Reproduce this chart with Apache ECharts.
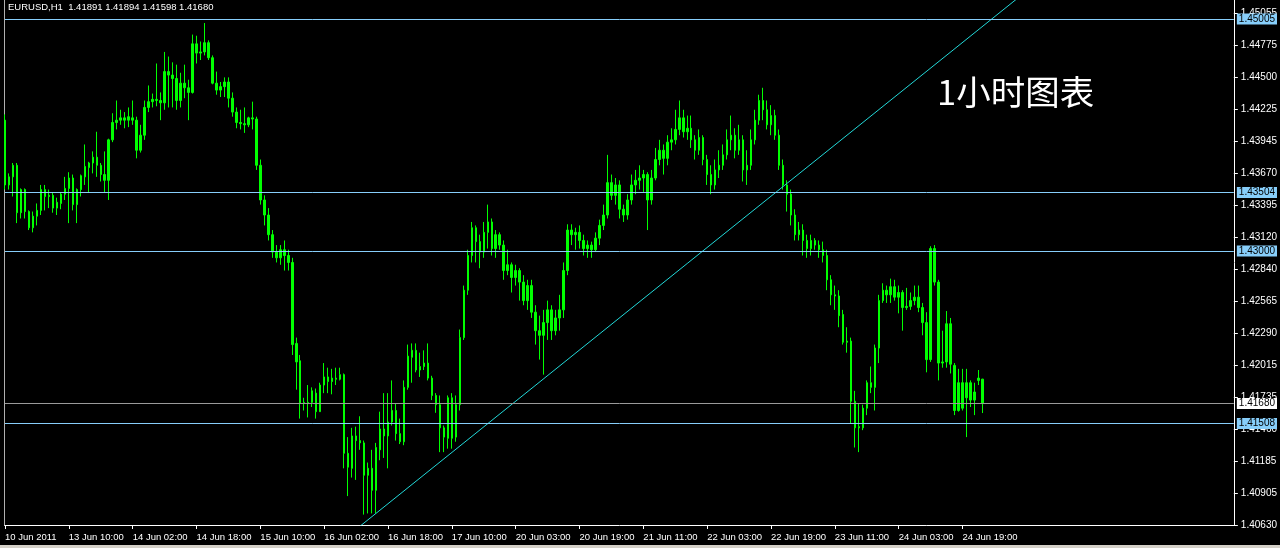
<!DOCTYPE html>
<html>
<head>
<meta charset="utf-8">
<script src="https://cdn.jsdelivr.net/npm/echarts@6/dist/echarts.min.js"></script>
<style>
html, body { margin: 0; padding: 0; background: #000; }
#chart { width: 1280px; height: 548px; }
</style>
</head>
<body>
<div id="chart"></div>
<script>
// time labels, one every 16 hourly bars
const tickLabels = ['10 Jun 2011', '13 Jun 10:00', '14 Jun 02:00', '14 Jun 18:00', '15 Jun 10:00', '16 Jun 02:00',
    '16 Jun 18:00', '17 Jun 10:00', '20 Jun 03:00', '20 Jun 19:00', '21 Jun 11:00', '22 Jun 03:00',
    '22 Jun 19:00', '23 Jun 11:00', '24 Jun 03:00', '24 Jun 19:00']

// price scale labels on the right
const priceTicks = [1.45055, 1.44775, 1.44500, 1.44225, 1.43945, 1.43670, 1.43395, 1.43120, 1.42840,
    1.42565, 1.42290, 1.42015, 1.41735, 1.41460, 1.41185, 1.40905, 1.40630]

// horizontal levels and the bid line
const levels = [1.45005, 1.43504, 1.43000, 1.41508]
const bidPrice = 1.41680

// trend line, [bar index, price]
const trendLine = [[80, 1.40371], [260, 1.45356]]

// EURUSD H1: [open, close, low, high]
const candles = [
    [1.4413, 1.4357, 1.4353, 1.4418], [1.4357, 1.4364, 1.4353, 1.4367], [1.4364, 1.4374, 1.4347, 1.4376], [1.4374, 1.4333, 1.4324, 1.4376],
    [1.4333, 1.4353, 1.4328, 1.4354], [1.4353, 1.4334, 1.4328, 1.4354], [1.4334, 1.4320, 1.4318, 1.4335], [1.4320, 1.4330, 1.4316, 1.4334],
    [1.4330, 1.4335, 1.4322, 1.4341], [1.4335, 1.4353, 1.4331, 1.4357], [1.4353, 1.4347, 1.4335, 1.4357], [1.4347, 1.4348, 1.4337, 1.4353],
    [1.4348, 1.4337, 1.4333, 1.4350], [1.4337, 1.4342, 1.4331, 1.4346], [1.4341, 1.4349, 1.4336, 1.4350], [1.4349, 1.4354, 1.4344, 1.4364],
    // 13 Jun 10:00
    [1.4354, 1.4363, 1.4324, 1.4368], [1.4363, 1.4340, 1.4335, 1.4366], [1.4340, 1.4353, 1.4324, 1.4354], [1.4353, 1.4365, 1.4347, 1.4366],
    [1.4364, 1.4373, 1.4357, 1.4392], [1.4372, 1.4376, 1.4350, 1.4377], [1.4376, 1.4381, 1.4367, 1.4386], [1.4381, 1.4374, 1.4364, 1.4403],
    [1.4374, 1.4366, 1.4360, 1.4376], [1.4366, 1.4361, 1.4350, 1.4386], [1.4361, 1.4396, 1.4344, 1.4397], [1.4396, 1.4411, 1.4394, 1.4419],
    [1.4411, 1.4413, 1.4405, 1.4430], [1.4413, 1.4415, 1.4409, 1.4422], [1.4415, 1.4413, 1.4406, 1.4420], [1.4413, 1.4416, 1.4407, 1.4424],
    // 14 Jun 02:00
    [1.4415, 1.4413, 1.4409, 1.4430], [1.4413, 1.4387, 1.4380, 1.4416], [1.4387, 1.4400, 1.4385, 1.4409], [1.4400, 1.4424, 1.4396, 1.4430],
    [1.4424, 1.4429, 1.4420, 1.4443], [1.4429, 1.4431, 1.4424, 1.4436], [1.4431, 1.4430, 1.4425, 1.4462], [1.4430, 1.4428, 1.4413, 1.4437],
    [1.4428, 1.4455, 1.4422, 1.4472], [1.4455, 1.4452, 1.4424, 1.4468], [1.4452, 1.4449, 1.4424, 1.4463], [1.4449, 1.4430, 1.4422, 1.4461],
    [1.4430, 1.4445, 1.4424, 1.4454], [1.4445, 1.4441, 1.4432, 1.4461], [1.4441, 1.4437, 1.4413, 1.4448], [1.4437, 1.4479, 1.4436, 1.4487],
    // 14 Jun 18:00
    [1.4479, 1.4471, 1.4462, 1.4486], [1.4471, 1.4472, 1.4465, 1.4481], [1.4472, 1.4480, 1.4469, 1.4497], [1.4480, 1.4467, 1.4465, 1.4482],
    [1.4467, 1.4445, 1.4444, 1.4469], [1.4445, 1.4439, 1.4435, 1.4455], [1.4439, 1.4442, 1.4433, 1.4446], [1.4442, 1.4446, 1.4433, 1.4450],
    [1.4446, 1.4432, 1.4424, 1.4450], [1.4432, 1.4420, 1.4416, 1.4437], [1.4420, 1.4411, 1.4406, 1.4424], [1.4411, 1.4410, 1.4405, 1.4422],
    [1.4410, 1.4409, 1.4402, 1.4424], [1.4409, 1.4415, 1.4407, 1.4416], [1.4415, 1.4414, 1.4405, 1.4429], [1.4414, 1.4374, 1.4370, 1.4416],
    // 15 Jun 10:00
    [1.4374, 1.4344, 1.4340, 1.4379], [1.4344, 1.4331, 1.4322, 1.4348], [1.4331, 1.4314, 1.4309, 1.4337], [1.4314, 1.4299, 1.4294, 1.4318],
    [1.4299, 1.4294, 1.4290, 1.4305], [1.4294, 1.4301, 1.4288, 1.4305], [1.4301, 1.4296, 1.4283, 1.4309], [1.4296, 1.4290, 1.4283, 1.4301],
    [1.4290, 1.4219, 1.4210, 1.4294], [1.4220, 1.4204, 1.4180, 1.4225], [1.4205, 1.4168, 1.4155, 1.4210], [1.4168, 1.4169, 1.4162, 1.4173],
    [1.4168, 1.4169, 1.4156, 1.4184], [1.4169, 1.4179, 1.4165, 1.4182], [1.4177, 1.4161, 1.4155, 1.4181], [1.4161, 1.4184, 1.4161, 1.4186],
    // 16 Jun 02:00
    [1.4184, 1.4191, 1.4177, 1.4203], [1.4191, 1.4187, 1.4177, 1.4199], [1.4187, 1.4190, 1.4176, 1.4198], [1.4190, 1.4189, 1.4184, 1.4199],
    [1.4189, 1.4193, 1.4188, 1.4199], [1.4193, 1.4125, 1.4112, 1.4194], [1.4125, 1.4113, 1.4088, 1.4139], [1.4112, 1.4140, 1.4104, 1.4147],
    [1.4140, 1.4136, 1.4102, 1.4148], [1.4136, 1.4134, 1.4128, 1.4157], [1.4134, 1.4106, 1.4072, 1.4136], [1.4106, 1.4112, 1.4073, 1.4117],
    [1.4112, 1.4093, 1.4073, 1.4128], [1.4093, 1.4130, 1.4073, 1.4134], [1.4128, 1.4146, 1.4119, 1.4161], [1.4146, 1.4140, 1.4121, 1.4177],
    // 16 Jun 18:00
    [1.4140, 1.4152, 1.4112, 1.4177], [1.4152, 1.4162, 1.4149, 1.4188], [1.4162, 1.4142, 1.4136, 1.4168], [1.4142, 1.4135, 1.4133, 1.4155],
    [1.4135, 1.4182, 1.4132, 1.4188], [1.4182, 1.4209, 1.4180, 1.4219], [1.4208, 1.4214, 1.4186, 1.4220], [1.4214, 1.4197, 1.4195, 1.4220],
    [1.4197, 1.4200, 1.4191, 1.4212], [1.4200, 1.4203, 1.4197, 1.4214], [1.4203, 1.4190, 1.4188, 1.4220], [1.4190, 1.4175, 1.4171, 1.4192],
    [1.4175, 1.4167, 1.4160, 1.4177], [1.4167, 1.4147, 1.4126, 1.4175], [1.4147, 1.4139, 1.4126, 1.4149], [1.4138, 1.4173, 1.4129, 1.4175],
    // 17 Jun 10:00
    [1.4173, 1.4138, 1.4129, 1.4177], [1.4139, 1.4167, 1.4135, 1.4175], [1.4167, 1.4225, 1.4162, 1.4232], [1.4225, 1.4266, 1.4223, 1.4270],
    [1.4266, 1.4296, 1.4262, 1.4301], [1.4296, 1.4320, 1.4290, 1.4325], [1.4320, 1.4308, 1.4290, 1.4322], [1.4308, 1.4299, 1.4285, 1.4314],
    [1.4299, 1.4316, 1.4294, 1.4325], [1.4316, 1.4325, 1.4302, 1.4340], [1.4325, 1.4302, 1.4296, 1.4328], [1.4302, 1.4314, 1.4294, 1.4318],
    [1.4314, 1.4305, 1.4301, 1.4316], [1.4305, 1.4283, 1.4275, 1.4309], [1.4283, 1.4288, 1.4279, 1.4301], [1.4288, 1.4277, 1.4264, 1.4290],
    // 20 Jun 03:00
    [1.4277, 1.4283, 1.4270, 1.4288], [1.4283, 1.4273, 1.4257, 1.4285], [1.4273, 1.4257, 1.4253, 1.4279], [1.4257, 1.4270, 1.4249, 1.4275],
    [1.4270, 1.4247, 1.4242, 1.4275], [1.4247, 1.4231, 1.4219, 1.4253], [1.4231, 1.4227, 1.4206, 1.4244], [1.4227, 1.4238, 1.4193, 1.4249],
    [1.4238, 1.4249, 1.4223, 1.4257], [1.4249, 1.4231, 1.4223, 1.4253], [1.4231, 1.4242, 1.4227, 1.4249], [1.4242, 1.4249, 1.4231, 1.4262],
    [1.4249, 1.4283, 1.4242, 1.4290], [1.4283, 1.4318, 1.4279, 1.4323], [1.4318, 1.4314, 1.4305, 1.4323], [1.4314, 1.4316, 1.4301, 1.4320],
    // 20 Jun 19:00
    [1.4316, 1.4309, 1.4302, 1.4322], [1.4309, 1.4302, 1.4296, 1.4314], [1.4302, 1.4305, 1.4294, 1.4309], [1.4305, 1.4301, 1.4294, 1.4308],
    [1.4301, 1.4311, 1.4299, 1.4316], [1.4311, 1.4322, 1.4305, 1.4327], [1.4322, 1.4331, 1.4318, 1.4340], [1.4331, 1.4359, 1.4328, 1.4383],
    [1.4359, 1.4348, 1.4344, 1.4366], [1.4348, 1.4357, 1.4340, 1.4363], [1.4357, 1.4336, 1.4328, 1.4361], [1.4336, 1.4331, 1.4325, 1.4340],
    [1.4331, 1.4344, 1.4327, 1.4349], [1.4344, 1.4357, 1.4340, 1.4366], [1.4357, 1.4361, 1.4349, 1.4370], [1.4361, 1.4363, 1.4353, 1.4374],
    // 21 Jun 11:00
    [1.4363, 1.4366, 1.4351, 1.4370], [1.4366, 1.4344, 1.4318, 1.4368], [1.4344, 1.4363, 1.4340, 1.4370], [1.4363, 1.4379, 1.4361, 1.4389],
    [1.4379, 1.4387, 1.4374, 1.4396], [1.4387, 1.4380, 1.4366, 1.4392], [1.4380, 1.4394, 1.4374, 1.4400], [1.4394, 1.4396, 1.4387, 1.4406],
    [1.4396, 1.4405, 1.4392, 1.4422], [1.4405, 1.4415, 1.4400, 1.4430], [1.4415, 1.4403, 1.4398, 1.4422], [1.4403, 1.4406, 1.4396, 1.4417],
    [1.4406, 1.4396, 1.4389, 1.4417], [1.4396, 1.4387, 1.4379, 1.4400], [1.4387, 1.4398, 1.4383, 1.4405], [1.4398, 1.4379, 1.4374, 1.4400],
    // 22 Jun 03:00
    [1.4379, 1.4366, 1.4357, 1.4383], [1.4366, 1.4357, 1.4349, 1.4374], [1.4357, 1.4370, 1.4353, 1.4379], [1.4370, 1.4374, 1.4363, 1.4387],
    [1.4374, 1.4383, 1.4370, 1.4392], [1.4383, 1.4396, 1.4379, 1.4405], [1.4396, 1.4400, 1.4387, 1.4417], [1.4400, 1.4387, 1.4380, 1.4406],
    [1.4387, 1.4396, 1.4383, 1.4409], [1.4396, 1.4370, 1.4360, 1.4400], [1.4370, 1.4374, 1.4357, 1.4387], [1.4374, 1.4396, 1.4370, 1.4405],
    [1.4396, 1.4413, 1.4392, 1.4422], [1.4413, 1.4430, 1.4409, 1.4435], [1.4430, 1.4422, 1.4413, 1.4441], [1.4422, 1.4409, 1.4405, 1.4430],
    // 22 Jun 19:00
    [1.4409, 1.4417, 1.4400, 1.4426], [1.4417, 1.4400, 1.4396, 1.4422], [1.4400, 1.4374, 1.4370, 1.4405], [1.4374, 1.4357, 1.4353, 1.4379],
    [1.4357, 1.4349, 1.4334, 1.4361], [1.4349, 1.4331, 1.4322, 1.4353], [1.4331, 1.4314, 1.4309, 1.4336], [1.4314, 1.4318, 1.4309, 1.4325],
    [1.4318, 1.4309, 1.4296, 1.4323], [1.4309, 1.4302, 1.4294, 1.4314], [1.4302, 1.4309, 1.4296, 1.4314], [1.4309, 1.4305, 1.4301, 1.4311],
    [1.4305, 1.4301, 1.4294, 1.4309], [1.4301, 1.4296, 1.4290, 1.4308], [1.4296, 1.4275, 1.4266, 1.4301], [1.4275, 1.4262, 1.4253, 1.4279],
    // 23 Jun 11:00
    [1.4262, 1.4261, 1.4249, 1.4270], [1.4261, 1.4244, 1.4234, 1.4266], [1.4245, 1.4221, 1.4219, 1.4249], [1.4221, 1.4222, 1.4212, 1.4234],
    [1.4222, 1.4170, 1.4151, 1.4225], [1.4170, 1.4147, 1.4130, 1.4179], [1.4147, 1.4148, 1.4126, 1.4168], [1.4147, 1.4164, 1.4145, 1.4167],
    [1.4164, 1.4186, 1.4158, 1.4188], [1.4182, 1.4186, 1.4177, 1.4200], [1.4182, 1.4216, 1.4162, 1.4219], [1.4216, 1.4257, 1.4203, 1.4262],
    [1.4257, 1.4266, 1.4255, 1.4272], [1.4266, 1.4262, 1.4255, 1.4270], [1.4262, 1.4269, 1.4255, 1.4276], [1.4269, 1.4260, 1.4257, 1.4275],
    // 24 Jun 03:00
    [1.4260, 1.4264, 1.4246, 1.4270], [1.4264, 1.4251, 1.4231, 1.4266], [1.4251, 1.4252, 1.4249, 1.4268], [1.4252, 1.4257, 1.4249, 1.4264],
    [1.4257, 1.4260, 1.4253, 1.4270], [1.4260, 1.4251, 1.4247, 1.4270], [1.4251, 1.4238, 1.4227, 1.4255], [1.4238, 1.4206, 1.4195, 1.4247],
    [1.4206, 1.4302, 1.4204, 1.4304], [1.4302, 1.4273, 1.4270, 1.4305], [1.4273, 1.4203, 1.4188, 1.4275], [1.4203, 1.4204, 1.4199, 1.4231],
    [1.4204, 1.4237, 1.4199, 1.4248], [1.4237, 1.4202, 1.4194, 1.4242], [1.4201, 1.4162, 1.4158, 1.4203], [1.4162, 1.4186, 1.4161, 1.4198],
    // 24 Jun 19:00
    [1.4186, 1.4164, 1.4162, 1.4198], [1.4173, 1.4186, 1.4139, 1.4198], [1.4186, 1.4171, 1.4165, 1.4188], [1.4171, 1.4178, 1.4158, 1.4186],
    [1.4188, 1.4190, 1.4184, 1.4197], [1.41891, 1.41680, 1.41598, 1.41894]
]

const SLOTS = 309 // bars plus the empty shift on the right
const categories = Array.from({ length: SLOTS }, (_, i) => (i % 16 === 0 && tickLabels[i / 16]) || '')

const FONT = 'Liberation Sans'
const chart = echarts.init(document.getElementById('chart'))

const levelLine = (value, color, bg) => ({
    yAxis: value,
    lineStyle: { color, width: 1, type: 'solid' },
    label: {
        show: true,
        position: 'end',
        distance: 3,
        formatter: p => p.value.toFixed(5),
        backgroundColor: bg,
        color: '#000',
        fontFamily: FONT,
        fontSize: 10,
        padding: [1, 2, 0, 2]
    }
})

chart.setOption({
    backgroundColor: '#000',
    animation: false,
    grid: { left: 5, right: 43, top: 0, bottom: 23 },
    xAxis: [{
        type: 'category',
        data: categories,
        boundaryGap: false,
        axisLine: { lineStyle: { color: '#fff', width: 1 } },
        axisTick: { length: 4, interval: (i, v) => v !== '', lineStyle: { color: '#fff' } },
        axisLabel: { interval: (i, v) => v !== '', align: 'left', margin: 7, color: '#fff', fontFamily: FONT, fontSize: 9.5 },
        splitLine: { show: false }
    }, {
        type: 'value',
        min: 0,
        max: SLOTS - 1,
        show: false
    }],
    yAxis: {
        type: 'value',
        position: 'right',
        min: 1.40630,
        max: 1.45169,
        axisLine: { show: true, onZero: false, lineStyle: { color: '#fff', width: 1 } },
        axisTick: { show: true, length: 4, customValues: priceTicks, lineStyle: { color: '#fff' } },
        axisLabel: { customValues: priceTicks, formatter: v => v.toFixed(5), margin: 7, color: '#fff', fontFamily: FONT, fontSize: 10 },
        splitLine: { show: false }
    },
    series: [{
        type: 'candlestick',
        data: candles,
        barWidth: 2,
        itemStyle: {
            color: '#00ff00',
            color0: '#00ff00',
            borderColor: '#00ff00',
            borderColor0: '#00ff00',
            borderColorDoji: '#00ff00',
            borderWidth: 1
        },
        markLine: {
            symbol: 'none',
            silent: true,
            precision: 5,
            animation: false,
            data: [
                ...levels.map(v => levelLine(v, '#87cefa', '#87cefa')),
                levelLine(bidPrice, '#9a9a9a', '#ffffff')
            ]
        }
    }, {
        type: 'line',
        xAxisIndex: 1,
        data: trendLine,
        symbol: 'none',
        silent: true,
        lineStyle: { color: '#22d8d8', width: 1 }
    }],
    graphic: [
        { type: 'line', shape: { x1: 4.5, y1: 0, x2: 4.5, y2: 526 }, style: { stroke: '#b0b0b0', lineWidth: 1 } },
        { type: 'rect', shape: { x: 0, y: 545, width: 1280, height: 3 }, style: { fill: '#d4d0c8' } },
        {
            type: 'text', left: 8, top: 2,
            style: { text: 'EURUSD,H1  1.41891 1.41894 1.41598 1.41680', fill: '#fff', font: '9.5px "Liberation Sans"' }
        },
        {
            type: 'text', x: 937, y: 92,
            style: { text: '1小时图表', fill: '#fff', font: '34.5px "Noto Sans CJK SC"', textVerticalAlign: 'middle' }
        }
    ]
})
</script>
</body>
</html>
